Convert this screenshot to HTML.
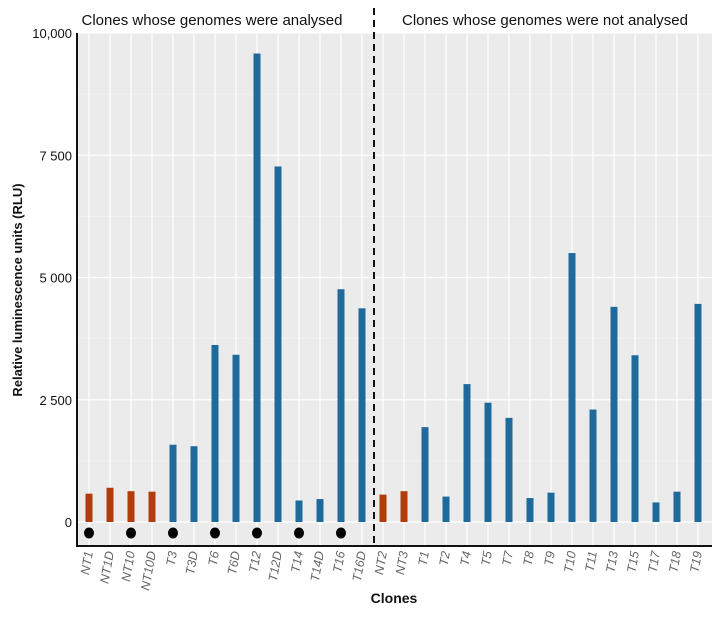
<!DOCTYPE html>
<html><head><meta charset="utf-8"><style>
body{margin:0;background:#fff;}
svg text{font-family:"Liberation Sans",Arial,sans-serif;}
</style></head><body>
<svg id="chart" width="721" height="615" xmlns="http://www.w3.org/2000/svg">
<rect x="77" y="33" width="635" height="513" fill="#ebebeb"/>
<g id="grid"></g>
<g id="bars"></g>
<g id="dots"></g>
<line x1="374" y1="8" x2="374" y2="546" stroke="#111" stroke-width="2" stroke-dasharray="7,5"/>
<line x1="77" y1="33" x2="77" y2="547" stroke="#111" stroke-width="2"/>
<line x1="76" y1="546" x2="712" y2="546" stroke="#111" stroke-width="2"/>
<g id="yticks"></g>
<g id="xticks"></g>
<text x="212" y="25" font-size="15" text-anchor="middle" fill="#111">Clones whose genomes were analysed</text>
<text x="545" y="25" font-size="15" text-anchor="middle" fill="#111">Clones whose genomes were not analysed</text>
<text x="394" y="603" font-size="14" font-weight="bold" text-anchor="middle" fill="#111">Clones</text>
<text transform="translate(22,290) rotate(-90)" font-size="13" font-weight="bold" text-anchor="middle" fill="#111">Relative luminescence units (RLU)</text>
</svg>
<script>
const categories=["NT1","NT1D","NT10","NT10D","T3","T3D","T6","T6D","T12","T12D","T14","T14D","T16","T16D","NT2","NT3","T1","T2","T4","T5","T7","T8","T9","T10","T11","T13","T15","T17","T18","T19"];
const values=[580,700,630,620,1580,1550,3620,3420,9580,7270,440,470,4760,4370,560,630,1940,520,2820,2440,2130,490,600,5500,2300,4400,3410,400,620,4460];
const isControl=[1,1,1,1,0,0,0,0,0,0,0,0,0,0,1,1,0,0,0,0,0,0,0,0,0,0,0,0,0,0];
const sequenced=["NT1","NT10","T3","T6","T12","T14","T16"];
const yTicks=[0,2500,5000,7500,10000];
const yTickLabels=["0","2 500","5 000","7 500","10,000"];
const NS="http://www.w3.org/2000/svg";
function xPos(i){return 89+i*((698-89)/(categories.length-1));}
function yPos(v){return 522-v*(489/10000);}
function mk(t,a,p){const e=document.createElementNS(NS,t);for(const k in a)e.setAttribute(k,a[k]);p.appendChild(e);return e;}
const grid=document.getElementById('grid'),bars=document.getElementById('bars'),dots=document.getElementById('dots'),yt=document.getElementById('yticks'),xt=document.getElementById('xticks');
for(let k=0;k<yTicks.length;k++){
  const y=yPos(yTicks[k]);
  const l=mk('line',{x1:77,x2:712,y1:y,y2:y,stroke:'#fff','stroke-width':1.2},grid);
  
  
  if(k<yTicks.length-1){const ym=yPos((yTicks[k]+yTicks[k+1])/2);
    const m=mk('line',{x1:77,x2:712,y1:ym,y2:ym,stroke:'#f6f6f6','stroke-width':0.6},grid);
    
    }
  const t=mk('text',{x:72,y:y+5,'font-size':13,'text-anchor':'end',fill:'#111'},yt);
  t.textContent=yTickLabels[k];
  
  
}
categories.forEach((c,i)=>{
  const x=xPos(i);
  const g=mk('line',{x1:x,x2:x,y1:33,y2:546,stroke:'#fff','stroke-width':1.2},grid);
  
  
  const y=yPos(values[i]);
  const b=mk('rect',{x:x-3.5,y:y,width:7,height:yPos(0)-y,fill:isControl[i]?'#b23c0c':'#1f6a9c'},bars);
  
  
  if(sequenced.includes(c)){const d=mk('ellipse',{cx:x,cy:533,rx:5,ry:5.5,fill:'#000'},dots);
    
    }
  const t=mk('text',{transform:`translate(${x+4},552) rotate(-80)`,'font-size':12.5,'font-style':'italic','text-anchor':'end',fill:'#666'},xt);
  t.textContent=c;
  
  
});
</script>
</body></html>
